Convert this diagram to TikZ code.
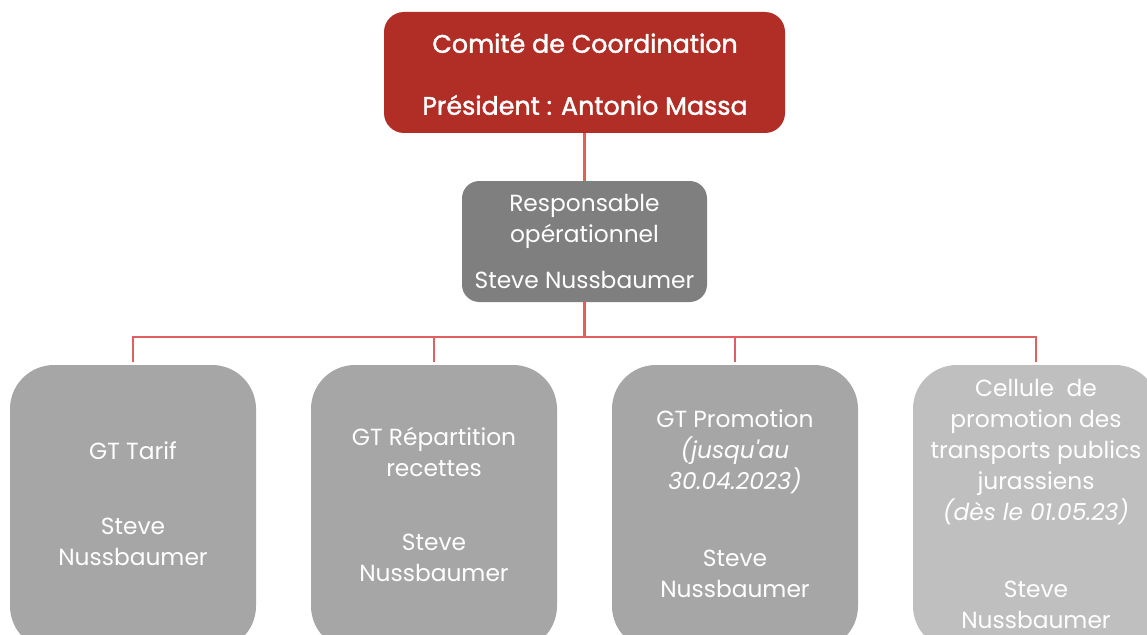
\documentclass[tikz,border=0pt]{standalone}
\usepackage{fontspec}
\setmainfont{Poppins}[Ligatures=TeXOff]
\newfontfamily\titlefont{Poppins}[FakeBold=1.6]
\definecolor{topred}{HTML}{B02E26}
\definecolor{midgrey}{HTML}{7F7F7F}
\definecolor{lowgrey}{HTML}{A6A6A6}
\definecolor{lightgrey}{HTML}{BFBFBF}
\definecolor{linkred}{HTML}{E06060}
\tikzset{
  box/.style={inner sep=0pt, draw=none},
  label/.style={text=white, align=center, inner sep=0pt, font=\fontsize{17.5}{23.25}\selectfont},
  title/.style={text=white, align=center, inner sep=0pt, font=\titlefont\fontsize{19}{23.25}\selectfont},
  conn/.style={draw=linkred, line width=2.2pt},
}
\begin{document}
\begin{tikzpicture}[x=0.75pt,y=-0.75pt]
\useasboundingbox (0,0) rectangle (1147,635);
\clip (0,0) rectangle (1147,635);
\fill[white] (0,0) rectangle (1147,635);
% boxes
\node[box, fill=topred, rounded corners=15pt, minimum width=300.75pt, minimum height=90.75pt] (top) at (584.5,72.5) {};
\node[box, fill=midgrey, rounded corners=13pt, minimum width=183.75pt, minimum height=90.75pt] (resp) at (584.5,241.5) {};
\node[box, fill=lowgrey, rounded corners=33pt, minimum width=184.5pt, minimum height=213.75pt] (b1) at (133,507.5) {};
\node[box, fill=lowgrey, rounded corners=33pt, minimum width=184.5pt, minimum height=213.75pt] (b2) at (434,507.5) {};
\node[box, fill=lowgrey, rounded corners=33pt, minimum width=184.5pt, minimum height=213.75pt] (b3) at (735,507.5) {};
\node[box, fill=lightgrey, rounded corners=33pt, minimum width=184.5pt, minimum height=213.75pt] (b4) at (1036,507.5) {};
% connectors
\coordinate (bus) at (584.5,337);
\draw[conn] (top.south) -- (resp.north);
\draw[conn] (resp.south) -- (bus);
\draw[conn] ([yshift=2pt]b1.north) -- (b1.north |- bus) -- (b4.north |- bus) -- ([yshift=2pt]b4.north);
\draw[conn] ([yshift=2pt]b2.north) -- (b2.north |- bus);
\draw[conn] ([yshift=2pt]b3.north) -- (b3.north |- bus);
% texts
\node[title] (top1) at (585,43) {Comité de Coordination};
\node[title] (top2) at (585,105) {Président : Antonio Massa};
\node[label] (r1) at (584.5,221.5) {Responsable\\opérationnel};
\node[label] (r2) at (584.5,280) {Steve Nussbaumer};
\node[label] (t1a) at (133,451) {GT Tarif};
\node[label] (t1b) at (133,541.5) {Steve\\Nussbaumer};
\node[label] (t2a) at (434,452) {GT Répartition\\recettes};
\node[label] (t2b) at (434,557.5) {Steve\\Nussbaumer};
\node[label] (t3a) at (735,452) {GT Promotion\\\textit{(jusqu'au}\\\textit{30.04.2023)}};
\node[label] (t3b) at (735,573.5) {Steve\\Nussbaumer};
\node[label] (t4a) at (1036,452) {Cellule~~de\\promotion des\\transports publics\\jurassiens\\\textit{(dès le 01.05.23)}};
\node[label] (t4b) at (1036,604.5) {Steve\\Nussbaumer};
\end{tikzpicture}
\end{document}
